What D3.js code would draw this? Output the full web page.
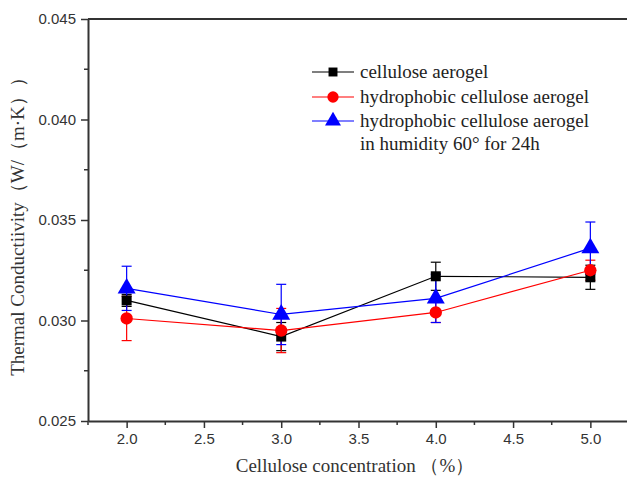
<!DOCTYPE html>
<html>
<head>
<meta charset="utf-8">
<script src="https://cdn.jsdelivr.net/npm/d3@7"></script>
<style>
  body { margin: 0; background: #fff; }
  svg { display: block; }
  .tick text { font-family: "Liberation Sans", Arial, sans-serif; font-size: 15px; fill: #333; }
</style>
</head>
<body>
<svg id="chart" width="627" height="478"></svg>
<script>
// concentrations (%)
const concentrations = [2.0, 3.0, 4.0, 5.0];

// thermal conductivity, W/(m·K)
const celluloseVals = [0.0310, 0.0292, 0.0322, 0.03215];
const celluloseErr = [0.0003, 0.0007, 0.0007, 0.0006];
const hydroVals = [0.0301, 0.0295, 0.0304, 0.0325];
const hydroErr = [0.0011, 0.0011, 0.0005, 0.0005];
const humidVals = [0.0316, 0.0303, 0.0311, 0.0336];
const humidErr = [0.0011, 0.0015, 0.0012, 0.0013];

const xTicks = [2.0, 2.5, 3.0, 3.5, 4.0, 4.5, 5.0];
const yTicks = [0.025, 0.030, 0.035, 0.040, 0.045];

const series = [
  { name: "cellulose aerogel", color: "#000000", shape: d3.symbolSquare, vals: celluloseVals, err: celluloseErr },
  { name: "hydrophobic cellulose aerogel", color: "#ff0000", shape: d3.symbolCircle, vals: hydroVals, err: hydroErr },
  { name: "hydrophobic cellulose aerogel", name2: "in humidity 60° for 24h", color: "#0000ff", shape: d3.symbolTriangle, vals: humidVals, err: humidErr }
];

const svg = d3.select("#chart");
const plotLeft = 88, plotRight = 629, plotTop = 19, plotBottom = 421;

const x = d3.scaleLinear().domain([1.75, 5.25]).range([plotLeft, plotRight]);
const y = d3.scaleLinear().domain([0.025, 0.045]).range([plotBottom, plotTop]);

// frame (top line)
svg.append("line")
  .attr("x1", plotLeft).attr("x2", plotRight)
  .attr("y1", plotTop).attr("y2", plotTop)
  .attr("stroke", "#333").attr("stroke-width", 2);

// minor ticks
const xMinor = d3.range(1.75, 5.26, 0.25).filter(v => !xTicks.some(t => Math.abs(t - v) < 1e-6));
const yMinor = d3.range(0.0275, 0.045, 0.005);

const xAxis = svg.append("g")
  .attr("transform", `translate(0,${plotBottom})`)
  .call(d3.axisBottom(x).tickValues(xTicks).tickFormat(d3.format(".1f")).tickSize(7).tickPadding(5).tickSizeOuter(0));
xAxis.append("g").selectAll("line").data(xMinor).join("line")
  .attr("x1", d => x(d)).attr("x2", d => x(d))
  .attr("y1", 0).attr("y2", 4)
  .attr("stroke", "#333").attr("stroke-width", 1.5);

const yAxis = svg.append("g")
  .attr("transform", `translate(${plotLeft},0)`)
  .call(d3.axisLeft(y).tickValues(yTicks).tickFormat(d3.format(".3f")).tickSize(7).tickPadding(5).tickSizeOuter(0));
yAxis.append("g").selectAll("line").data(yMinor).join("line")
  .attr("x1", 0).attr("x2", -4)
  .attr("y1", d => y(d)).attr("y2", d => y(d))
  .attr("stroke", "#333").attr("stroke-width", 1.5);

[xAxis, yAxis].forEach(a => {
  a.select(".domain").attr("stroke", "#333").attr("stroke-width", 2);
  a.selectAll(".tick line").attr("stroke", "#333").attr("stroke-width", 1.5);
});

// axis titles
svg.append("text")
  .attr("x", 355).attr("y", 472)
  .attr("text-anchor", "middle")
  .attr("font-family", "Liberation Serif, Times New Roman, serif")
  .attr("font-size", 19).attr("fill", "#333")
  .text("Cellulose concentration （%）");

svg.append("text")
  .attr("transform", "translate(24,222) rotate(-90)")
  .attr("text-anchor", "middle")
  .attr("font-family", "Liberation Serif, Times New Roman, serif")
  .attr("font-size", 19).attr("fill", "#333")
  .text("Thermal Conductiivity（W/（m·K））");

// series
const line = d3.line().x((d, i) => x(concentrations[i])).y(d => y(d));
const plot = svg.append("g");

series.forEach(s => {
  const g = plot.append("g");
  g.append("path")
    .attr("d", line(s.vals))
    .attr("fill", "none")
    .attr("stroke", s.color)
    .attr("stroke-width", 1.2);

  // error bars
  const eb = g.selectAll(".err").data(s.vals).join("g");
  eb.append("line")
    .attr("x1", (d, i) => x(concentrations[i])).attr("x2", (d, i) => x(concentrations[i]))
    .attr("y1", (d, i) => y(d - s.err[i])).attr("y2", (d, i) => y(d + s.err[i]))
    .attr("stroke", s.color).attr("stroke-width", 1.2);
  [-1, 1].forEach(sign => {
    eb.append("line")
      .attr("x1", (d, i) => x(concentrations[i]) - 5).attr("x2", (d, i) => x(concentrations[i]) + 5)
      .attr("y1", (d, i) => y(d + sign * s.err[i])).attr("y2", (d, i) => y(d + sign * s.err[i]))
      .attr("stroke", s.color).attr("stroke-width", 1.2);
  });
});

series.forEach(s => {
  const size = s.shape === d3.symbolTriangle ? 140 : (s.shape === d3.symbolCircle ? 120 : 100);
  plot.append("g").selectAll("path").data(s.vals).join("path")
    .attr("transform", (d, i) => `translate(${x(concentrations[i])},${y(d)})`)
    .attr("d", d3.symbol().type(s.shape).size(size))
    .attr("fill", s.color);
});

// legend
const legend = svg.append("g").attr("transform", "translate(312,72)");
const rowY = [0, 25, 49];
series.forEach((s, i) => {
  const row = legend.append("g").attr("transform", `translate(0,${rowY[i]})`);
  row.append("line").attr("x1", 0).attr("x2", 42).attr("y1", 0).attr("y2", 0)
    .attr("stroke", s.color).attr("stroke-width", 1.2);
  const size = s.shape === d3.symbolTriangle ? 110 : (s.shape === d3.symbolCircle ? 100 : 80);
  row.append("path")
    .attr("transform", "translate(21,0)")
    .attr("d", d3.symbol().type(s.shape).size(size))
    .attr("fill", s.color);
  const t = row.append("text")
    .attr("x", 48).attr("y", 6)
    .attr("font-family", "Liberation Serif, Times New Roman, serif")
    .attr("font-size", 19).attr("fill", "#222");
  t.append("tspan").text(s.name);
  if (s.name2) t.append("tspan").attr("x", 48).attr("dy", 23).text(s.name2);
});
</script>
</body>
</html>
